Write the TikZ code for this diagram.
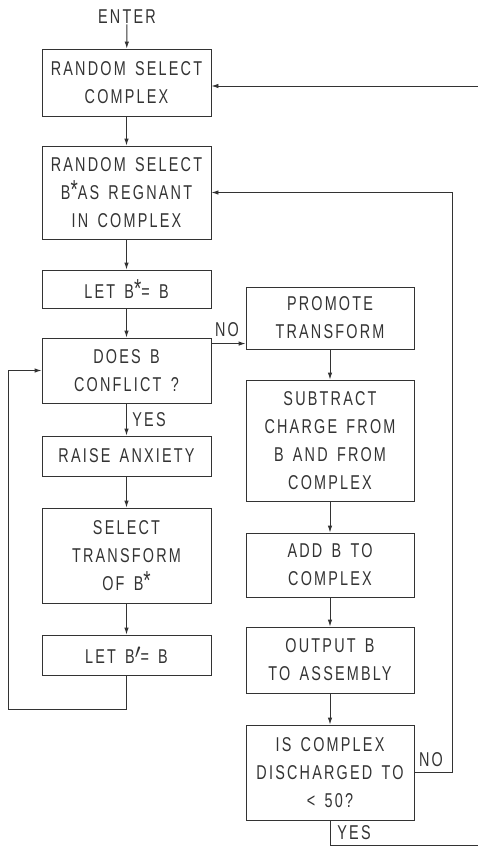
\documentclass[tikz,border=0pt]{standalone}
\usepackage{fontspec}
\newfontfamily\chartfont[FakeStretch=0.72,LetterSpace=11,WordSpace=1.5]{Liberation Sans}
\usetikzlibrary{arrows.meta}
\newcommand{\bstar}{B\raisebox{1pt}{\fontsize{26}{26}\selectfont *}}

\begin{document}
\begin{tikzpicture}[
      x=1pt, y=-1pt,
      >={Latex[length=7pt,width=4.5pt]},
      color=black!80,
      line width=0.9pt,
      procbox/.style={
        rectangle,
        draw,
        align=center,
        inner sep=0pt,
        font=\chartfont\fontsize{20}{28}\selectfont,
      },
      leftbox/.style={procbox, minimum width=169pt},
      rightbox/.style={procbox, minimum width=168pt},
      lbl/.style={font=\chartfont\fontsize{20}{22}\selectfont, inner sep=0pt},
    ]
      \useasboundingbox (0,0) rectangle (478,847);

      % entry
      \node[lbl] (enter) at (127,17) {ENTER};

      % left column
      \node[leftbox, minimum height=67pt] (b1) at (126.5,82.5) {RANDOM SELECT\\COMPLEX};
      \node[leftbox, minimum height=93pt] (b2) at (126.5,192.5) {RANDOM SELECT\\\bstar AS REGNANT\\IN COMPLEX};
      \node[leftbox, minimum height=38pt] (b3) at (126.5,289) {LET \bstar= B};
      \node[leftbox, minimum height=65pt] (b4) at (126.5,370.5) {DOES B\\CONFLICT ?};
      \node[leftbox, minimum height=40pt] (b5) at (126.5,456) {RAISE ANXIETY};
      \node[leftbox, minimum height=95pt] (b6) at (126.5,555.5) {SELECT\\TRANSFORM\\OF \bstar};
      \node[leftbox, minimum height=40pt] (b7) at (126.5,655) {LET B\raisebox{5pt}{$\prime$}= B};

      % right column
      \node[rightbox, minimum height=62pt] (r1) at (330,318) {PROMOTE\\TRANSFORM};
      \node[rightbox, minimum height=121pt] (r2) at (330,440.5) {SUBTRACT\\CHARGE FROM\\B AND FROM\\COMPLEX};
      \node[rightbox, minimum height=64pt] (r3) at (330,565) {ADD B TO\\COMPLEX};
      \node[rightbox, minimum height=66pt] (r4) at (330,660) {OUTPUT B\\TO ASSEMBLY};
      \node[rightbox, minimum height=95pt] (r5) at (330,772.5) {IS COMPLEX\\DISCHARGED TO\\< 50?};

      % branch labels
      \node[lbl] (no1) at (227,330) {NO};
      \node[lbl, anchor=west] (yes1) at (132,420) {YES};
      \node[lbl] (no2) at (431,760) {NO};
      \node[lbl, anchor=west] (yes2) at (337,833) {YES};

      % loose ends and turning points
      \coordinate (topin) at (478,86);
      \coordinate (yesend) at (478,845);
      \coordinate (noturn) at (452,0);
      \coordinate (loopl) at (8,709);
      \coordinate (noout) at ([yshift=-6pt]b4.north east);

      % straight flow
      \draw[->] (enter) -- (b1);
      \draw[->] (b1) -- (b2);
      \draw[->] (b2) -- (b3);
      \draw[->] (b3) -- (b4);
      \draw[->] (b4) -- (b5);
      \draw[->] (b5) -- (b6);
      \draw[->] (b6) -- (b7);
      \draw[->] (r1) -- (r2);
      \draw[->] (r2) -- (r3);
      \draw[->] (r3) -- (r4);
      \draw[->] (r4) -- (r5);

      % branches and loops
      \draw[->] (noout) -- (noout -| r1.west);
      \draw[->] (b7.south) |- (loopl) |- (b4.west);
      \draw[->] (r5.east) -- (r5.east -| noturn) |- (b2.east);
      \draw[->] (topin) -- (topin -| b1.east);
      \draw (r5.south) |- (yesend);
    \end{tikzpicture}
\end{document}
